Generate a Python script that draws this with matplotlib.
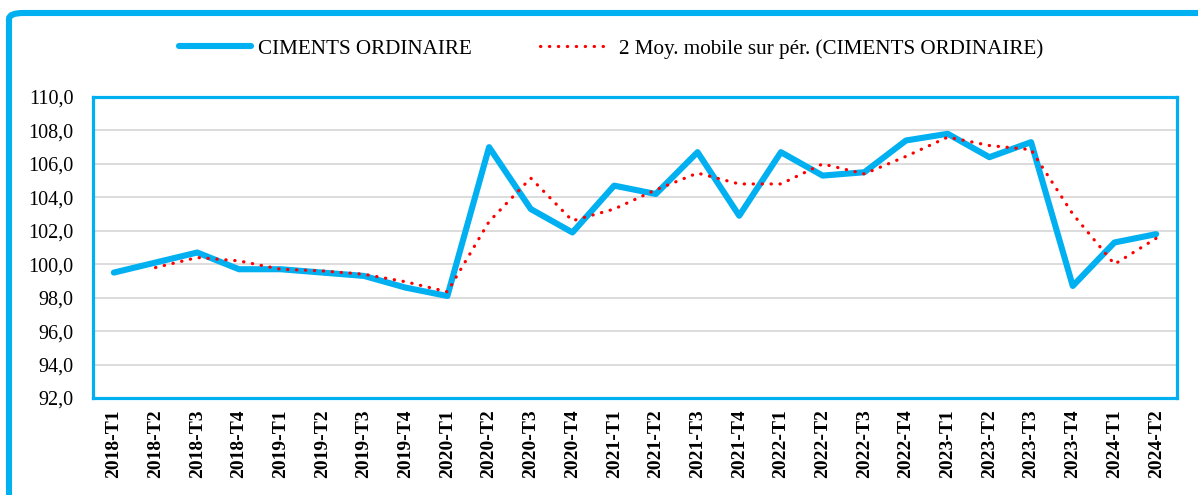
import matplotlib
matplotlib.use("Agg")
import matplotlib.pyplot as plt
from matplotlib.patches import FancyBboxPatch
from matplotlib.lines import Line2D
import numpy as np
import pandas as pd

categories = ["2018-T1", "2018-T2", "2018-T3", "2018-T4",
              "2019-T1", "2019-T2", "2019-T3", "2019-T4",
              "2020-T1", "2020-T2", "2020-T3", "2020-T4",
              "2021-T1", "2021-T2", "2021-T3", "2021-T4",
              "2022-T1", "2022-T2", "2022-T3", "2022-T4",
              "2023-T1", "2023-T2", "2023-T3", "2023-T4",
              "2024-T1", "2024-T2"]
ciments = [99.5, 100.1, 100.7, 99.7,
           99.7, 99.5, 99.3, 98.6,
           98.1, 107.0, 103.3, 101.9,
           104.7, 104.2, 106.7, 102.9,
           106.7, 105.3, 105.5, 107.4,
           107.8, 106.4, 107.3, 98.7,
           101.3, 101.8]
y_ticks = [92, 94, 96, 98, 100, 102, 104, 106, 108, 110]

series_label = "CIMENTS ORDINAIRE"
ma_label = "2 Moy. mobile sur pér. (CIMENTS ORDINAIRE)"

moving_avg = pd.Series(ciments).rolling(2).mean()

BLUE = "#00B0F0"
plt.rcParams['font.family'] = ['Liberation Serif', 'DejaVu Serif']

fig = plt.figure(figsize=(11.98, 4.95), dpi=100)
fig.patch.set_facecolor("white")

# outer rounded border
border = FancyBboxPatch((9/1198, -0.2), 1.2, 1 - 13/495 + 0.2,
                        boxstyle="round,pad=0,rounding_size=0.012",
                        transform=fig.transFigure, facecolor="none",
                        edgecolor=BLUE, linewidth=4.4, clip_on=False)
fig.patches.append(border)

ax = fig.add_axes([93/1198, 1 - 398/495, (1177 - 93)/1198, (398 - 97)/495])
x = np.arange(len(categories))

ax.plot(x, ciments, color=BLUE, lw=4.4, solid_joinstyle="round",
        solid_capstyle="round", zorder=3)
ax.plot(x, moving_avg, color="#FF0000", lw=2.3, linestyle=(0, (0.1, 2.7)),
        dash_capstyle="round", zorder=4)

ax.set_xlim(-0.5, len(categories) - 0.5)
ax.set_ylim(92, 110)
ax.set_yticks(y_ticks)
ax.set_yticklabels([f"{v:.1f}".replace(".", ",") for v in y_ticks], fontsize=14.5)
ax.set_xticks(x)
ax.set_xticklabels(categories, rotation=90, fontsize=14, fontweight="bold")
ax.tick_params(axis="both", length=0)
ax.tick_params(axis="y", pad=14)
ax.tick_params(axis="x", pad=8)
ax.grid(axis="y", color="#D9D9D9", lw=1.3, zorder=1)
ax.set_axisbelow(True)
for s in ax.spines.values():
    s.set_color(BLUE)
    s.set_linewidth(2.3)

handles = [Line2D([], [], color=BLUE, lw=4.4, solid_capstyle="round"),
           Line2D([], [], color="#FF0000", lw=2.3, linestyle=(0, (0.1, 2.7)),
                  dash_capstyle="round")]
fig.legend(handles, [series_label, ma_label], loc="center",
           bbox_to_anchor=(611/1198, 1 - 49/495), ncol=2, frameon=False,
           fontsize=15.2, handlelength=3.4, handletextpad=0.35, columnspacing=3.2)

fig.savefig("out.png", dpi=100)
